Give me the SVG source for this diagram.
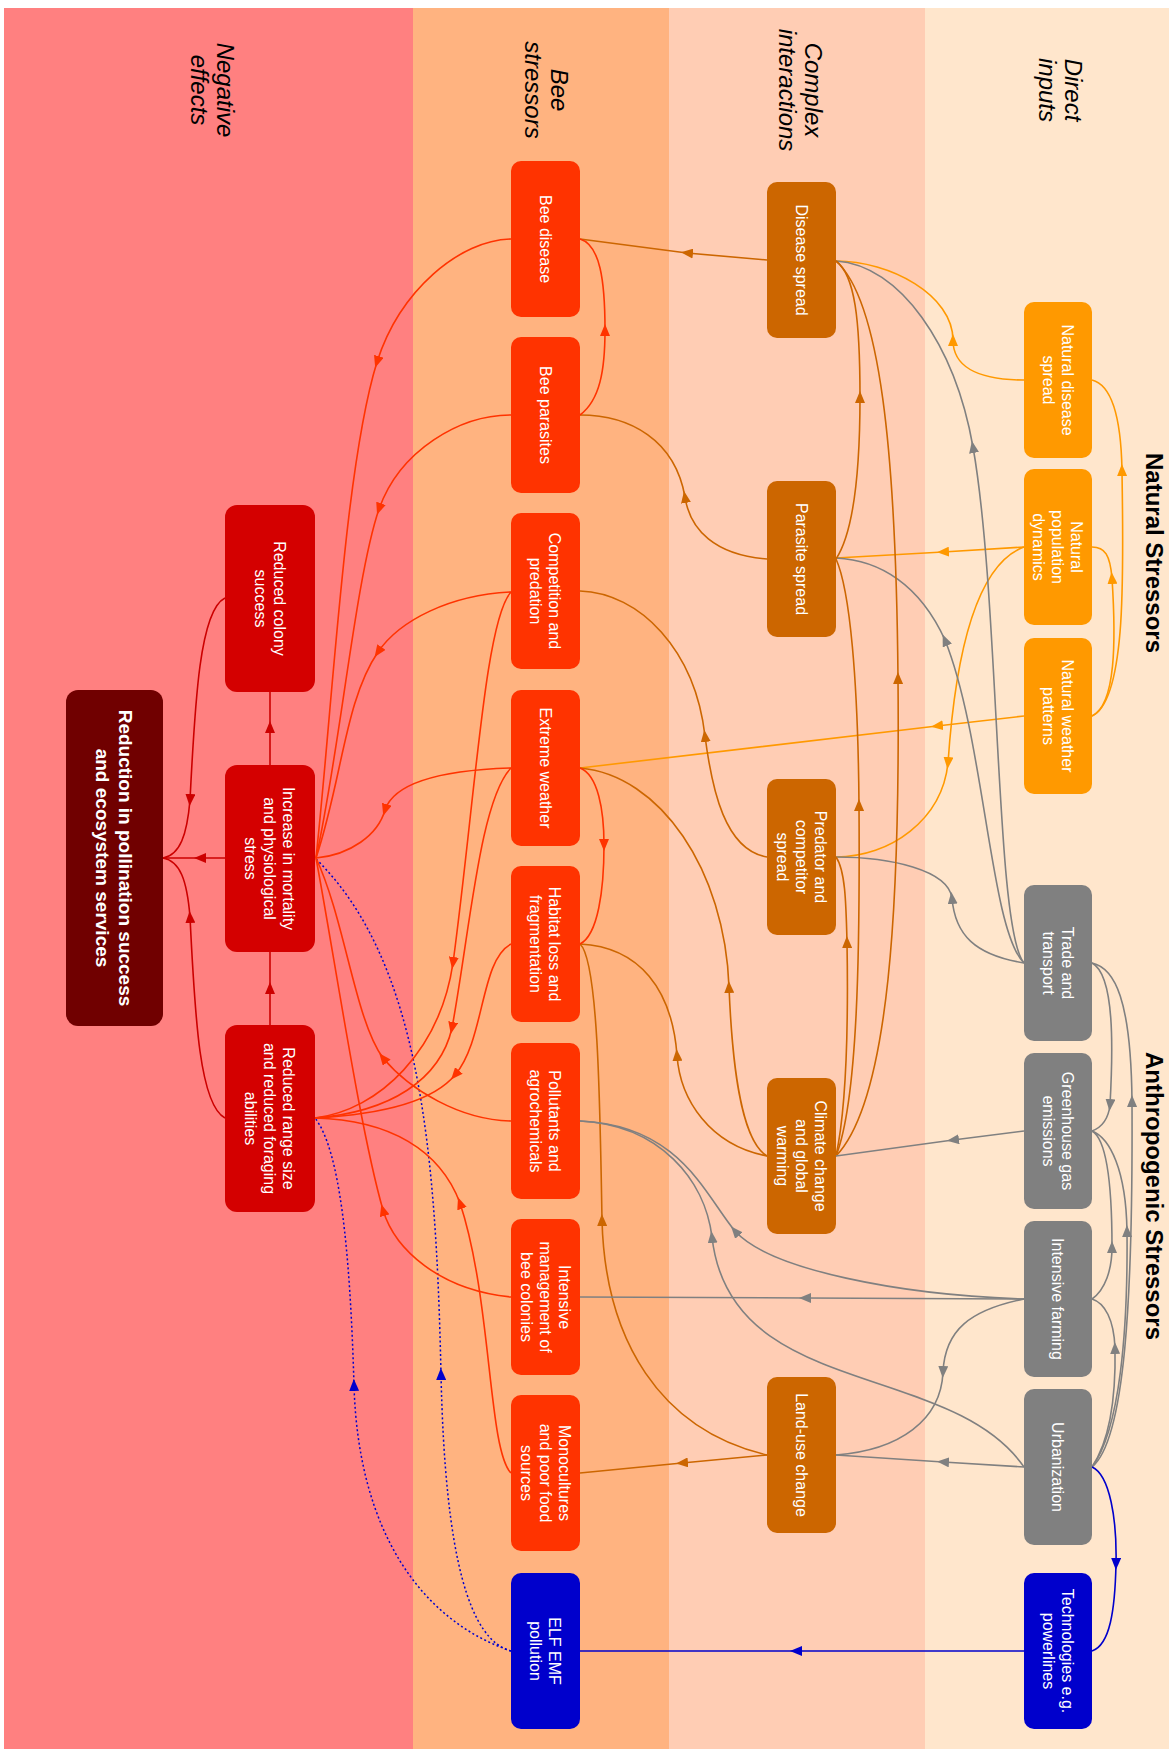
<svg xmlns="http://www.w3.org/2000/svg" width="1169" height="1749" viewBox="0 0 1169 1749">
<defs>
<style>
.nt{font-family:"Liberation Sans",Arial,Helvetica,sans-serif;font-size:16px;fill:#fff;text-anchor:middle}
.rd{font-size:19px;font-weight:bold}
.hd{font-family:"Liberation Sans",Arial,Helvetica,sans-serif;font-size:24px;font-style:italic;fill:#000;text-anchor:middle}
.big{font-family:"Liberation Sans",Arial,Helvetica,sans-serif;font-size:24px;font-weight:bold;fill:#000;text-anchor:middle}
.e{fill:none;stroke-width:1.6}
.er{stroke:#FF3300;marker-mid:url(#mR)}
.eb{stroke:#CC6600;marker-mid:url(#mB)}
.eo{stroke:#FF9900;marker-mid:url(#mO)}
.eg{stroke:#808080;marker-mid:url(#mG)}
.eu{stroke:#0000CC;marker-mid:url(#mU)}
.ed{stroke:#CC0000;marker-mid:url(#mD)}
.dot{stroke-dasharray:2 2.5;stroke-width:1.5}
.bs{fill:#FF3300}.cx{fill:#CC6600}.na{fill:#FF9900}.an{fill:#808080}.bl{fill:#0000CC}.neg{fill:#D40000}
</style>
<marker id="mR" viewBox="0 0 12 10" refX="6" refY="5" markerWidth="12" markerHeight="10" markerUnits="userSpaceOnUse" orient="auto"><path d="M0,0 L12,5 L0,10 z" fill="#FF3300"/></marker>
<marker id="mB" viewBox="0 0 12 10" refX="6" refY="5" markerWidth="12" markerHeight="10" markerUnits="userSpaceOnUse" orient="auto"><path d="M0,0 L12,5 L0,10 z" fill="#CC6600"/></marker>
<marker id="mO" viewBox="0 0 12 10" refX="6" refY="5" markerWidth="12" markerHeight="10" markerUnits="userSpaceOnUse" orient="auto"><path d="M0,0 L12,5 L0,10 z" fill="#FF9900"/></marker>
<marker id="mG" viewBox="0 0 12 10" refX="6" refY="5" markerWidth="12" markerHeight="10" markerUnits="userSpaceOnUse" orient="auto"><path d="M0,0 L12,5 L0,10 z" fill="#808080"/></marker>
<marker id="mU" viewBox="0 0 12 10" refX="6" refY="5" markerWidth="12" markerHeight="10" markerUnits="userSpaceOnUse" orient="auto"><path d="M0,0 L12,5 L0,10 z" fill="#0000CC"/></marker>
<marker id="mD" viewBox="0 0 12 10" refX="6" refY="5" markerWidth="12" markerHeight="10" markerUnits="userSpaceOnUse" orient="auto"><path d="M0,0 L12,5 L0,10 z" fill="#CC0000"/></marker>
</defs>
<rect width="1169" height="1749" fill="#ffffff"/>
<g id="lanes">
<rect x="4" y="8" width="409" height="1741" fill="#FF8080"/>
<rect x="413" y="8" width="256" height="1741" fill="#FFB380"/>
<rect x="669" y="8" width="256" height="1741" fill="#FFCDB4"/>
<rect x="925" y="8" width="244" height="1741" fill="#FFE6CC"/>
<text class="hd" transform="translate(212,90) rotate(90)"><tspan x="0" dy="-4.6">Negative</tspan><tspan x="0" dy="26">effects</tspan></text>
<text class="hd" transform="translate(546,90) rotate(90)"><tspan x="0" dy="-4.6">Bee</tspan><tspan x="0" dy="26">stressors</tspan></text>
<text class="hd" transform="translate(800,90) rotate(90)"><tspan x="0" dy="-4.6">Complex</tspan><tspan x="0" dy="26">interactions</tspan></text>
<text class="hd" transform="translate(1060,90) rotate(90)"><tspan x="0" dy="-4.6">Direct</tspan><tspan x="0" dy="26">inputs</tspan></text>
<text class="big" transform="translate(1146,553) rotate(90)">Natural Stressors</text>
<text class="big" transform="translate(1146,1196) rotate(90)">Anthropogenic Stressors</text>
</g>
<g id="connectors">
<path class="e eb" d="M767,260 L687,253 L580,239"/>
<path class="e eo" d="M1024,380 C975,380 953,365 953,340 C953,295 890,261 836,261"/>
<path class="e eo" d="M1092,716 C1128,700 1123,560 1122,470 C1121,420 1112,385 1092,380"/>
<path class="e eo" d="M1092,716 C1116,705 1116,640 1112,578 C1110,555 1105,547 1092,547"/>
<path class="e eo" d="M1024,547 L943,552 L836,558"/>
<path class="e eo" d="M1024,547 C975,565 955,660 948,763 C942,820 890,857 836,857"/>
<path class="e eo" d="M1024,716 L937,726 L580,768"/>
<path class="e eg" d="M1024,963 C995,930 1000,600 973,447 C955,345 900,265 836,261"/>
<path class="e eg" d="M1024,963 C990,930 985,740 945,640 C920,585 880,560 836,558"/>
<path class="e eg" d="M1024,963 C975,955 955,935 952,898 C948,870 890,857 836,857"/>
<path class="e eb" d="M767,559 C715,555 690,530 685,497 C675,440 630,415 580,415"/>
<path class="e eb" d="M767,857 C725,850 712,790 705,736 C695,650 640,593 580,591"/>
<path class="e eb" d="M767,1156 C740,1140 732,1060 729,987 C725,870 660,775 580,768"/>
<path class="e eb" d="M767,1156 C710,1145 680,1100 677,1055 C672,990 640,947 580,944"/>
<path class="e eb" d="M767,1455 C660,1430 605,1340 602,1220 C600,1100 598,960 580,944"/>
<path class="e eb" d="M767,1455 L682,1463 L580,1473"/>
<path class="e eb" d="M836,559 C855,530 860,460 860,397 C860,320 855,275 836,261"/>
<path class="e eb" d="M836,1156 C890,1100 900,900 898,678 C896,450 880,300 836,261"/>
<path class="e eb" d="M836,1156 C858,1100 860,950 859,805 C858,680 850,590 836,559"/>
<path class="e eb" d="M836,1156 C848,1100 848,1000 847,942 C846,900 845,870 836,857"/>
<path class="e eg" d="M1024,1131 L953,1140 L836,1156"/>
<path class="e eg" d="M1024,1299 L805,1298 L580,1297"/>
<path class="e eg" d="M1024,1299 C900,1295 770,1270 735,1231 C705,1195 680,1125 580,1121"/>
<path class="e eg" d="M1024,1467 C950,1360 730,1400 712,1237 C705,1180 660,1125 580,1121"/>
<path class="e eg" d="M1024,1299 C970,1310 945,1330 943,1372 C941,1420 900,1450 836,1455"/>
<path class="e eg" d="M1024,1467 L943,1462 L836,1455"/>
<path class="e eg" d="M1092,963 C1115,975 1113,1050 1110,1105 C1108,1122 1100,1128 1092,1131"/>
<path class="e eg" d="M1092,1467 C1125,1440 1133,1300 1132,1101 C1131,1000 1115,968 1092,963"/>
<path class="e eg" d="M1092,1299 C1105,1290 1112,1270 1112,1247 C1112,1190 1108,1140 1092,1131"/>
<path class="e eg" d="M1092,1467 C1120,1430 1128,1330 1127,1231 C1126,1170 1110,1138 1092,1131"/>
<path class="e eg" d="M1092,1467 C1110,1440 1116,1400 1115,1348 C1114,1320 1105,1303 1092,1299"/>
<path class="e eu" d="M1092,1467 C1110,1475 1117,1520 1116,1564 C1115,1610 1110,1645 1092,1651"/>
<path class="e eu" d="M1024,1651 L796,1651 L580,1651"/>
<path class="e eu dot" d="M511,1651 C470,1640 445,1560 441,1374 C436,1150 420,960 315,858"/>
<path class="e eu dot" d="M511,1651 C420,1620 358,1530 354,1385 C350,1250 340,1150 315,1118"/>
<path class="e er" d="M511,239 C460,240 400,290 377,362 C345,465 333,700 316,858"/>
<path class="e er" d="M511,415 C460,415 400,450 379,509 C355,580 340,750 316,858"/>
<path class="e er" d="M511,592 C450,595 400,620 378,652 C345,700 342,780 316,858"/>
<path class="e er" d="M511,768 C450,770 395,780 385,810 C378,835 350,855 316,858"/>
<path class="e er" d="M511,1121 C460,1120 410,1090 383,1058 C355,1020 345,920 316,858"/>
<path class="e er" d="M511,1297 C440,1290 395,1250 383,1210 C360,1130 335,960 316,858"/>
<path class="e er" d="M511,592 C485,620 475,800 453,963 C440,1050 380,1110 315,1118"/>
<path class="e er" d="M511,768 C480,800 470,930 452,1028 C440,1080 390,1112 315,1118"/>
<path class="e er" d="M511,944 C480,960 485,1040 455,1075 C430,1105 370,1115 315,1118"/>
<path class="e er" d="M511,1473 C488,1450 492,1300 460,1203 C440,1150 390,1120 315,1118"/>
<path class="e er" d="M580,415 C600,400 605,370 605,330 C605,280 600,245 580,239"/>
<path class="e er" d="M580,768 C598,775 604,810 604,845 C604,890 598,935 580,944"/>
<path class="e ed" d="M225,858 L200,858 L163,858"/>
<path class="e ed" d="M270,765 L270,727 L270,692"/>
<path class="e ed" d="M270,1025 L270,988 L270,952"/>
<path class="e ed" d="M225,598 C200,610 195,700 190,800 C187,835 180,855 163,858"/>
<path class="e ed" d="M225,1118 C200,1105 195,1020 190,917 C187,880 180,861 163,858"/>
</g>
<g id="n-bee-disease"><rect class="bs" x="511" y="161" width="69" height="156" rx="10"/><text class="nt" transform="translate(545.5,239) rotate(90)"><tspan x="0" dy="5.6">Bee disease</tspan></text></g>
<g id="n-bee-parasites"><rect class="bs" x="511" y="337" width="69" height="156" rx="10"/><text class="nt" transform="translate(545.5,415) rotate(90)"><tspan x="0" dy="5.6">Bee parasites</tspan></text></g>
<g id="n-competition"><rect class="bs" x="511" y="513" width="69" height="156" rx="10"/><text class="nt" transform="translate(545.5,591) rotate(90)"><tspan x="0" dy="-3.9">Competition and</tspan><tspan x="0" dy="19">predation</tspan></text></g>
<g id="n-extreme-weather"><rect class="bs" x="511" y="690" width="69" height="156" rx="10"/><text class="nt" transform="translate(545.5,768) rotate(90)"><tspan x="0" dy="5.6">Extreme weather</tspan></text></g>
<g id="n-habitat-loss"><rect class="bs" x="511" y="866" width="69" height="156" rx="10"/><text class="nt" transform="translate(545.5,944) rotate(90)"><tspan x="0" dy="-3.9">Habitat loss and</tspan><tspan x="0" dy="19">fragmentation</tspan></text></g>
<g id="n-pollutants"><rect class="bs" x="511" y="1043" width="69" height="156" rx="10"/><text class="nt" transform="translate(545.5,1121) rotate(90)"><tspan x="0" dy="-3.9">Pollutants and</tspan><tspan x="0" dy="19">agrochemicals</tspan></text></g>
<g id="n-intensive-management"><rect class="bs" x="511" y="1219" width="69" height="156" rx="10"/><text class="nt" transform="translate(545.5,1297) rotate(90)"><tspan x="0" dy="-13.4">Intensive</tspan><tspan x="0" dy="19">management of</tspan><tspan x="0" dy="19">bee colonies</tspan></text></g>
<g id="n-monocultures"><rect class="bs" x="511" y="1395" width="69" height="156" rx="10"/><text class="nt" transform="translate(545.5,1473) rotate(90)"><tspan x="0" dy="-13.4">Monocultures</tspan><tspan x="0" dy="19">and poor food</tspan><tspan x="0" dy="19">sources</tspan></text></g>
<g id="n-elf-emf"><rect class="bl" x="511" y="1573" width="69" height="156" rx="10"/><text class="nt" transform="translate(545.5,1651) rotate(90)"><tspan x="0" dy="-3.9">ELF EMF</tspan><tspan x="0" dy="19">pollution</tspan></text></g>
<g id="n-disease-spread"><rect class="cx" x="767" y="182" width="69" height="156" rx="10"/><text class="nt" transform="translate(801.5,260) rotate(90)"><tspan x="0" dy="5.6">Disease spread</tspan></text></g>
<g id="n-parasite-spread"><rect class="cx" x="767" y="481" width="69" height="156" rx="10"/><text class="nt" transform="translate(801.5,559) rotate(90)"><tspan x="0" dy="5.6">Parasite spread</tspan></text></g>
<g id="n-predator-spread"><rect class="cx" x="767" y="779" width="69" height="156" rx="10"/><text class="nt" transform="translate(801.5,857) rotate(90)"><tspan x="0" dy="-13.4">Predator and</tspan><tspan x="0" dy="19">competitor</tspan><tspan x="0" dy="19">spread</tspan></text></g>
<g id="n-climate-change"><rect class="cx" x="767" y="1078" width="69" height="156" rx="10"/><text class="nt" transform="translate(801.5,1156) rotate(90)"><tspan x="0" dy="-13.4">Climate change</tspan><tspan x="0" dy="19">and global</tspan><tspan x="0" dy="19">warming</tspan></text></g>
<g id="n-land-use"><rect class="cx" x="767" y="1377" width="69" height="156" rx="10"/><text class="nt" transform="translate(801.5,1455) rotate(90)"><tspan x="0" dy="5.6">Land-use change</tspan></text></g>
<g id="n-natural-disease"><rect class="na" x="1024" y="302" width="68" height="156" rx="10"/><text class="nt" transform="translate(1058,380) rotate(90)"><tspan x="0" dy="-3.9">Natural disease</tspan><tspan x="0" dy="19">spread</tspan></text></g>
<g id="n-natural-population"><rect class="na" x="1024" y="469" width="68" height="156" rx="10"/><text class="nt" transform="translate(1058,547) rotate(90)"><tspan x="0" dy="-13.4">Natural</tspan><tspan x="0" dy="19">population</tspan><tspan x="0" dy="19">dynamics</tspan></text></g>
<g id="n-natural-weather"><rect class="na" x="1024" y="638" width="68" height="156" rx="10"/><text class="nt" transform="translate(1058,716) rotate(90)"><tspan x="0" dy="-3.9">Natural weather</tspan><tspan x="0" dy="19">patterns</tspan></text></g>
<g id="n-trade"><rect class="an" x="1024" y="885" width="68" height="156" rx="10"/><text class="nt" transform="translate(1058,963) rotate(90)"><tspan x="0" dy="-3.9">Trade and</tspan><tspan x="0" dy="19">transport</tspan></text></g>
<g id="n-greenhouse"><rect class="an" x="1024" y="1053" width="68" height="156" rx="10"/><text class="nt" transform="translate(1058,1131) rotate(90)"><tspan x="0" dy="-3.9">Greenhouse gas</tspan><tspan x="0" dy="19">emissions</tspan></text></g>
<g id="n-intensive-farming"><rect class="an" x="1024" y="1221" width="68" height="156" rx="10"/><text class="nt" transform="translate(1058,1299) rotate(90)"><tspan x="0" dy="5.6">Intensive farming</tspan></text></g>
<g id="n-urbanization"><rect class="an" x="1024" y="1389" width="68" height="156" rx="10"/><text class="nt" transform="translate(1058,1467) rotate(90)"><tspan x="0" dy="5.6">Urbanization</tspan></text></g>
<g id="n-technologies"><rect class="bl" x="1024" y="1573" width="68" height="156" rx="10"/><text class="nt" transform="translate(1058,1651) rotate(90)"><tspan x="0" dy="-3.9">Technologies e.g.</tspan><tspan x="0" dy="19">powerlines</tspan></text></g>
<g id="n-reduced-colony"><rect class="neg" x="225" y="505" width="90" height="187" rx="12"/><text class="nt" transform="translate(270,598.5) rotate(90)"><tspan x="0" dy="-3.9">Reduced colony</tspan><tspan x="0" dy="19">success</tspan></text></g>
<g id="n-increase-mortality"><rect class="neg" x="225" y="765" width="90" height="187" rx="12"/><text class="nt" transform="translate(270,858.5) rotate(90)"><tspan x="0" dy="-13.4">Increase in mortality</tspan><tspan x="0" dy="19">and physiological</tspan><tspan x="0" dy="19">stress</tspan></text></g>
<g id="n-reduced-range"><rect class="neg" x="225" y="1025" width="90" height="187" rx="12"/><text class="nt" transform="translate(270,1118.5) rotate(90)"><tspan x="0" dy="-13.4">Reduced range size</tspan><tspan x="0" dy="19">and reduced foraging</tspan><tspan x="0" dy="19">abilities</tspan></text></g>
<g id="n-reduction"><rect x="66" y="690" width="97" height="336" rx="12" fill="#700000"/><text class="nt rd" transform="translate(114.5,858) rotate(90)"><tspan x="0" dy="-4.9">Reduction in pollination success</tspan><tspan x="0" dy="23">and ecosystem services</tspan></text></g>
</svg>
